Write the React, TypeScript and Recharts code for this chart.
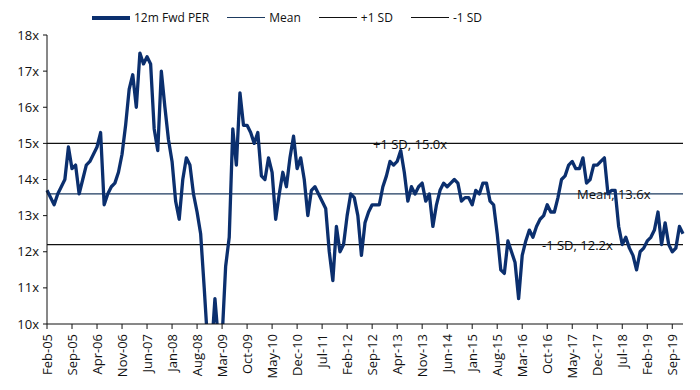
import React from "react";
import { LineChart, Line, XAxis, YAxis, ReferenceLine } from "recharts";

// monthly points, Feb-05 .. Dec-19
const MONTHS = ["Jan", "Feb", "Mar", "Apr", "May", "Jun", "Jul", "Aug", "Sep", "Oct", "Nov", "Dec"];
const startYear = 2005;
const startMonth = 1; // Feb

const perValues = [
  13.7, 13.5, 13.3, 13.6, 13.8, 14.0, 14.9, 14.3, 14.4, 13.6, 14.0, 14.4,
  14.5, 14.7, 14.9, 15.3, 13.3, 13.6, 13.8, 13.9, 14.2, 14.7, 15.5, 16.5,
  16.9, 16.0, 17.5, 17.2, 17.4, 17.2, 15.4, 14.8, 17.0, 16.0, 15.1, 14.5,
  13.4, 12.9, 14.0, 14.6, 14.4, 13.6, 13.1, 12.5, 11.0, 9.4, 9.2, 10.7,
  9.5, 9.6, 11.6, 12.4, 15.4, 14.4, 16.4, 15.5, 15.5, 15.3, 15.0, 15.3,
  14.1, 14.0, 14.6, 14.2, 12.9, 13.6, 14.2, 13.8, 14.6, 15.2, 14.3, 14.6,
  14.0, 13.0, 13.7, 13.8, 13.6, 13.4, 13.2, 12.0, 11.2, 12.7, 12.0, 12.2,
  13.0, 13.6, 13.5, 13.0, 11.9, 12.8, 13.1, 13.3, 13.3, 13.3, 13.8, 14.1,
  14.5, 14.4, 14.5, 14.8, 14.2, 13.4, 13.8, 13.6, 13.8, 13.9, 13.4, 13.6,
  12.7, 13.3, 13.7, 13.9, 13.8, 13.9, 14.0, 13.9, 13.4, 13.5, 13.5, 13.3,
  13.7, 13.6, 13.9, 13.9, 13.4, 13.3, 12.5, 11.5, 11.4, 12.3, 12.0, 11.7,
  10.7, 11.9, 12.3, 12.6, 12.4, 12.7, 12.9, 13.0, 13.3, 13.1, 13.1, 13.5,
  14.0, 14.1, 14.4, 14.5, 14.3, 14.3, 14.6, 13.9, 14.0, 14.4, 14.4, 14.5,
  14.6, 13.6, 13.7, 13.7, 12.7, 12.2, 12.4, 12.1, 11.9, 11.5, 12.0, 12.1,
  12.3, 12.4, 12.6, 13.1, 12.2, 12.8, 12.2, 12.0, 12.1, 12.7, 12.5,
];

const monthLabels = perValues.map((_, i) => {
  const m = (startMonth + i) % 12;
  const y = startYear + Math.floor((startMonth + i) / 12);
  return `${MONTHS[m]}-${String(y % 100).padStart(2, "0")}`;
});

const yTicks = [10, 11, 12, 13, 14, 15, 16, 17, 18];

const seriesNames = ["12m Fwd PER", "Mean", "+1 SD", "-1 SD"];
const levelValues = [13.6, 15.0, 12.2]; // mean, +1 SD, -1 SD

const data = perValues.map((v, i) => ({ month: monthLabels[i], per: v }));

const NAVY = "#0b2f6e";
const FONT = "'Open Sans', sans-serif";

const MonthTick = (props: any) => {
  const { x, y, payload } = props;
  return (
    <g transform={`translate(${x},${y})`}>
      <text
        transform="rotate(-90)"
        x={-3}
        y={0}
        dy="0.35em"
        textAnchor="end"
        fill="#111"
        fontSize={13}
        fontFamily={FONT}
      >
        {payload.value}
      </text>
    </g>
  );
};

const LevelLabel = (props: any) => {
  const { viewBox, text, shift } = props;
  if (!viewBox) return null;
  return (
    <text
      x={viewBox.x + shift}
      y={viewBox.y}
      dy="0.4em"
      fill="#111"
      fontSize={13}
      fontFamily={FONT}
    >
      {text}
    </text>
  );
};

function LegendRow() {
  const styles = [
    { color: NAVY, width: 4 },
    { color: "#1d3a5f", width: 1.5 },
    { color: "#111", width: 1.3 },
    { color: "#111", width: 1.3 },
  ];
  return (
    <div
      style={{
        position: "absolute",
        left: 92,
        top: 9,
        display: "flex",
        alignItems: "center",
        fontFamily: FONT,
        fontSize: 12,
        color: "#111",
      }}
    >
      {seriesNames.map((name, i) => (
        <div key={name} style={{ display: "flex", alignItems: "center", marginRight: 18 }}>
          <span
            style={{
              display: "inline-block",
              width: 38,
              height: styles[i].width,
              background: styles[i].color,
              marginRight: 4,
            }}
          />
          <span>{name}</span>
        </div>
      ))}
    </div>
  );
}

export default function App() {
  return (
    <div style={{ position: "absolute", left: 0, top: 0, width: 700, height: 390, background: "#fff" }}>
      <LineChart
        width={700}
        height={390}
        data={data}
        margin={{ top: 35, right: 17, left: 0, bottom: 6 }}
      >
        <XAxis
          dataKey="month"
          interval={6}
          tick={<MonthTick />}
          tickSize={5}
          tickMargin={2}
          height={60}
          stroke="#111"
          axisLine={{ stroke: "#111" }}
          tickLine={{ stroke: "#111" }}
        />
        <YAxis
          domain={[10, 18]}
          ticks={yTicks}
          allowDataOverflow
          width={47}
          tickSize={4}
          tickMargin={4}
          tickFormatter={(v) => `${v}x`}
          tick={{ fill: "#111", fontSize: 13, fontFamily: FONT }}
          axisLine={{ stroke: "#111" }}
          tickLine={{ stroke: "#111" }}
        />
        <ReferenceLine
          y={levelValues[1]}
          stroke="#111"
          strokeWidth={1.3}
          label={<LevelLabel text="+1 SD, 15.0x" shift={326} />}
        />
        <ReferenceLine
          y={levelValues[0]}
          stroke="#1d3a5f"
          strokeWidth={1.2}
          label={<LevelLabel text="Mean, 13.6x" shift={530} />}
        />
        <ReferenceLine
          y={levelValues[2]}
          stroke="#111"
          strokeWidth={1.3}
          label={<LevelLabel text="-1 SD, 12.2x" shift={495} />}
        />
        <Line
          type="linear"
          dataKey="per"
          name={seriesNames[0]}
          stroke={NAVY}
          strokeWidth={3.3}
          strokeLinejoin="round"
          dot={false}
          isAnimationActive={false}
        />
      </LineChart>
      <LegendRow />
    </div>
  );
}
